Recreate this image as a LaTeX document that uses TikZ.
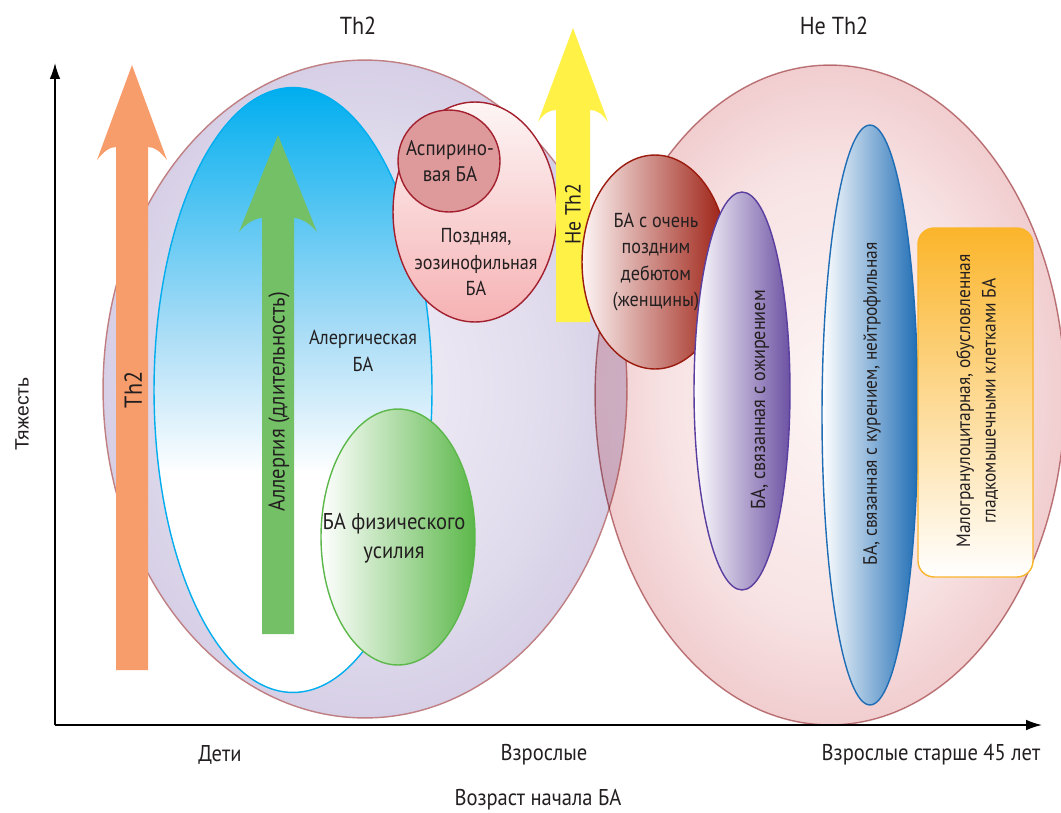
\documentclass[tikz,border=0pt]{standalone}
\usepackage{fontspec}
\setmainfont[FakeStretch=0.9]{PT Sans}
\newfontfamily\arialfont{Liberation Sans}
\usetikzlibrary{shapes.geometric,arrows.meta}
\definecolor{txt}{HTML}{231F20}
\definecolor{lavlight}{HTML}{F0EDF6}
\definecolor{lavdark}{HTML}{D6CFE6}
\definecolor{pinklight}{HTML}{FDF5F5}
\definecolor{pinkdark}{HTML}{F1CDCF}
\definecolor{rosyborder}{HTML}{C07F82}
\definecolor{skyA}{HTML}{00AEEF}
\definecolor{skyB}{HTML}{A8DCF6}
\definecolor{orangeA}{HTML}{F79D6B}
\definecolor{greenA}{HTML}{74C066}
\definecolor{yellowA}{HTML}{FFF145}
\definecolor{greenE}{HTML}{5CB84A}
\definecolor{pinkE}{HTML}{F6B2B4}
\definecolor{darkred}{HTML}{A3202E}
\definecolor{aspirin}{HTML}{DE999B}
\definecolor{brownE}{HTML}{9B1B0E}
\definecolor{purpleE}{HTML}{6D52A3}
\definecolor{purpleB}{HTML}{5B3FA0}
\definecolor{blueE}{HTML}{1F6DB5}
\definecolor{orangeR}{HTML}{FBB52B}
\pgfdeclareradialshading{lavshade}{\pgfpoint{0bp}{0bp}}{color(0bp)=(lavlight); color(16bp)=(lavlight!50!lavdark); color(25bp)=(lavdark); color(50bp)=(lavdark)}
\pgfdeclareradialshading{pinkshade}{\pgfpoint{0bp}{0bp}}{color(0bp)=(pinklight); color(17bp)=(pinklight!55!pinkdark); color(25bp)=(pinkdark); color(50bp)=(pinkdark)}
\pgfdeclareverticalshading{skyshade}{100bp}{color(0bp)=(white); color(43bp)=(white); color(55bp)=(skyB); color(75bp)=(skyA); color(100bp)=(skyA)}
\tikzset{
  blob/.style={ellipse, inner sep=0pt, line width=0.8pt},
  lbl/.style={text=txt, align=center, font=\fontsize{11}{14.5}\selectfont},
  axis/.style={line width=0.9pt, -{Latex[length=9pt,width=6pt]}},
}
\newcommand\fs[2]{\fontsize{#1}{#2}\selectfont}
\begin{document}
\begin{tikzpicture}[x=0.02cm,y=-0.02cm]
\useasboundingbox (0,0) rectangle (1061,812);
% big ellipses
\node[blob, draw=rosyborder, shading=lavshade, minimum width=10.48cm, minimum height=13.16cm] (th2) at (365,389) {};
\begin{scope}[blend mode=multiply]
\node[blob, draw=rosyborder, shading=pinkshade, minimum width=9.4cm, minimum height=13.2cm] (nth2) at (830,395) {};
\end{scope}
% allergic ellipse
\node[blob, draw=skyA, shading=skyshade, minimum width=5.56cm, minimum height=12.1cm] (allerg) at (293,390) {};
% orange arrow
\fill[orangeA] (132,65) -- (167,160) .. controls (160,151) and (154,147) .. (148,147) -- (148,670) -- (116,670) -- (116,147) .. controls (110,147) and (104,151) .. (97,160) -- cycle;
% green arrow
\fill[greenA] (278,135) -- (317,232) .. controls (310,223) and (300,218) .. (294,218) -- (294,634) -- (262,634) -- (262,218) .. controls (256,218) and (246,223) .. (239,232) -- cycle;
% exercise ellipse
\node[blob, draw=greenE, left color=white, right color=greenE, minimum width=3.08cm, minimum height=5.12cm] (exer) at (398,537) {};
% late eosinophilic
\node[blob, draw=darkred, top color=pinklight, bottom color=pinkE, minimum width=3.28cm, minimum height=4.4cm] (late) at (475,212) {};
\node[circle, inner sep=0pt, line width=0.8pt, draw=darkred, fill=aspirin, minimum size=2.04cm] (asp) at (449,161) {};
% yellow arrow
\fill[yellowA] (573,28) -- (608,122) .. controls (602,113) and (596,110) .. (590,110) -- (590,322) -- (556,322) -- (556,110) .. controls (550,110) and (544,113) .. (538,122) -- cycle;
% very late onset
\node[blob, draw=brownE, left color=pinklight, right color=brownE, minimum width=2.92cm, minimum height=4.28cm] (vlate) at (655,262) {};
% obesity
\node[blob, draw=purpleB, left color=white, right color=purpleE, minimum width=1.92cm, minimum height=7.96cm] (obes) at (742,391) {};
% smoking
\node[blob, draw=blueE, left color=white, right color=blueE, minimum width=1.92cm, minimum height=11.6cm] (smok) at (870,415) {};
% paucigranulocytic
\node[rectangle, rounded corners=0.32cm, line width=0.8pt, draw=orangeR, top color=orangeR, bottom color=white, minimum width=2.3cm, minimum height=6.98cm] (pauci) at (975.5,402.5) {};
% axes
\coordinate (origin) at (55,725);
\coordinate (ytop) at (55,63);
\coordinate (xend) at (1042,725);
\draw[axis] (origin) -- (ytop);
\draw[axis] (origin) -- (xend);
% texts
\node[lbl, font=\fs{14}{17}] (tTh2) at (358,26) {Th2};
\node[lbl, font=\fs{14}{17}] (tNTh2) at (834,26) {Не Th2};
\node[lbl, font=\arialfont\fs{11}{13}, rotate=90] (tSev) at (22,414) {Тяжесть};
\node[lbl, font=\fs{13}{16}] (tKids) at (220,755) {Дети};
\node[lbl, font=\fs{13}{16}] (tAdults) at (544,755) {Взрослые};
\node[lbl, font=\fs{13}{16}] (tOld) at (931,755) {Взрослые старше 45 лет};
\node[lbl, font=\fs{13}{16}] (tAge) at (538,800) {Возраст начала БА};
\node[lbl, font=\fs{14}{17}, rotate=90] (tArrTh2) at (133,390) {Th2};
\node[lbl, font=\fs{13}{16}, rotate=90] (tArrAll) at (279,402) {Аллергия (длительность)};
\node[lbl, font=\fs{11.5}{15}] (tAll) at (363,351) {Алергическая\\БА};
\node[lbl, font=\fs{13}{16.5}] (tExer) at (394,538) {БА физического\\усилия};
\node[lbl, font=\fs{12}{15}] (tAsp) at (450,161) {Аспирино-\\вая БА};
\node[lbl, font=\fs{11.5}{14.8}] (tLate) at (476,262) {Поздняя,\\эозинофильная\\БА};
\node[lbl, font=\fs{12.5}{15}, rotate=90] (tArrN) at (573,214) {Не Th2};
\node[lbl, font=\fs{11.5}{15}] (tVlate) at (656,262) {БА с очень\\поздним\\дебютом\\(женщины)};
\node[lbl, font=\fs{11.5}{15}, rotate=90] (tObes) at (760,400) {БА, связанная с ожирением};
\node[lbl, rotate=90] (tSmok) at (872,404) {БА, связанная с курением, нейтрофильная};
\node[lbl, rotate=90] (tPauci) at (977,401) {Малогранулоцитарная, обусловленная\\гладкомышечными клетками БА};
\end{tikzpicture}
\end{document}
